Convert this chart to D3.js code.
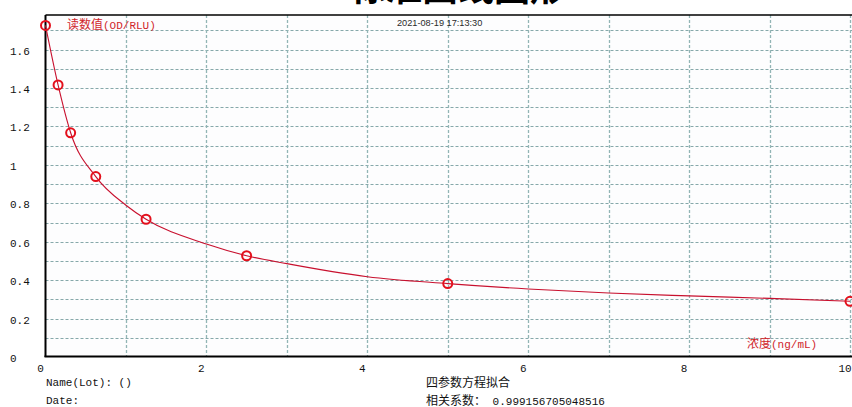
<!DOCTYPE html>
<html><head><meta charset="utf-8">
<script src="https://cdn.jsdelivr.net/npm/d3@7"></script>
<style>
html,body{margin:0;padding:0;background:#fff;overflow:hidden;}
svg{display:block;}
</style></head>
<body>
<svg id="chart" width="852" height="407"></svg>
<script>
// ---- data ----
const concentrations = [0, 0.15625, 0.3125, 0.625, 1.25, 2.5, 5, 10];
const readings = [1.726, 1.416, 1.167, 0.939, 0.717, 0.527, 0.382, 0.290];
// fitted four-parameter curve
const curveX = [0, 0.15625, 0.3125, 0.625, 1, 1.25, 2, 2.5, 3, 4, 5, 6, 7, 8, 9, 10];
const curveY = [1.726, 1.416, 1.167, 0.939, 0.79, 0.717, 0.588, 0.527, 0.486, 0.418, 0.382, 0.354, 0.333, 0.318, 0.305, 0.290];
const xTicks = [0, 2, 4, 6, 8, 10];
const xGrid = [1, 2, 3, 4, 5, 6, 7, 8, 9, 10];
const yTicks = [0, 0.2, 0.4, 0.6, 0.8, 1, 1.2, 1.4, 1.6];
const yGrid = [0.1, 0.2, 0.3, 0.4, 0.5, 0.6, 0.7, 0.8, 0.9, 1.0, 1.1, 1.2, 1.3, 1.4, 1.5, 1.6, 1.7];
const titleText = "标准曲线图形";
const timestamp = "2021-08-19 17:13:30";
const yAxisTitle = "读数值(OD/RLU)";
const xAxisTitle = "浓度(ng/mL)";
const infoLeft = ["Name(Lot): ()", "Date:"];
const infoRight = ["四参数方程拟合", "相关系数： 0.999156705048516"];

// ---- drawing ----
const svg = d3.select("#chart");
const L = 45.5, R = 850, T = 15, B = 357;
const x = d3.scaleLinear().domain([0, 10]).range([L, R]);
const y = d3.scaleLinear().domain([0, 1.78]).range([B, T]);

const mono = "'Liberation Mono','DejaVu Sans Mono',monospace";
const cjk = "'Noto Sans CJK SC','Noto Sans CJK JP',sans-serif";

function mixedText(sel, str, latinSize, cjkSize) {
  const runs = [];
  for (const ch of str) {
    const isC = /[\u3000-\u9fff\uff00-\uffef]/.test(ch);
    if (runs.length && runs[runs.length - 1].c === isC) runs[runs.length - 1].s += ch;
    else runs.push({c: isC, s: ch});
  }
  runs.forEach(r => {
    sel.append("tspan")
      .attr("font-family", r.c ? cjk : mono)
      .attr("font-size", r.c ? cjkSize : latinSize)
      .text(r.s);
  });
  return sel;
}

// title (cropped at the top edge, as in the reference)
svg.append("text").attr("x", 458).attr("y", 1).attr("text-anchor", "middle")
  .attr("font-family", cjk).attr("font-weight", "bold").attr("font-size", 36)
  .attr("fill", "#000").text(titleText);

// plot background
svg.append("rect").attr("x", L).attr("y", T).attr("width", 852 - L).attr("height", B - T).attr("fill", "#fdfdfe");

// grid
const g = svg.append("g");
g.selectAll("line.h").data(yGrid).join("line")
  .attr("x1", L).attr("x2", 852).attr("y1", d => Math.round(y(d)) + 0.5).attr("y2", d => Math.round(y(d)) + 0.5)
  .attr("stroke", "#86a8aa").attr("stroke-width", 1).attr("stroke-dasharray", "3,2");
g.selectAll("line.v").data(xGrid).join("line")
  .attr("y1", T).attr("y2", B).attr("x1", d => Math.round(x(d)) + 0.5).attr("x2", d => Math.round(x(d)) + 0.5)
  .attr("stroke", "#92b5b5").attr("stroke-width", 1.3).attr("stroke-dasharray", "3,2");

// timestamp
svg.append("text").attr("x", 397).attr("y", 25.5)
  .attr("font-family", "'Liberation Sans',Arial,sans-serif").attr("font-size", 9.2)
  .attr("fill", "#2a2a2a").text(timestamp);

// axes lines
svg.append("line").attr("x1", L).attr("x2", 852).attr("y1", T).attr("y2", T).attr("stroke", "#000").attr("stroke-width", 1.5);
svg.append("line").attr("x1", L).attr("x2", L).attr("y1", T).attr("y2", B).attr("stroke", "#000").attr("stroke-width", 2);
svg.append("line").attr("x1", L - 1).attr("x2", 852).attr("y1", B - 0.5).attr("y2", B - 0.5).attr("stroke", "#000").attr("stroke-width", 2);

// tick labels
svg.selectAll("text.yt").data(yTicks).join("text")
  .attr("x", 10).attr("y", d => y(d) + 5)
  .attr("font-family", mono).attr("font-size", 11).attr("fill", "#111")
  .text(d => d3.format("~g")(d));
svg.selectAll("text.xt").data(xTicks).join("text")
  .attr("x", d => x(d) - 5).attr("y", 372).attr("text-anchor", "middle")
  .attr("font-family", mono).attr("font-size", 11).attr("fill", "#111")
  .text(d => d);

// axis titles
mixedText(svg.append("text").attr("x", 67).attr("y", 29).attr("fill", "#d0252b"), yAxisTitle, 11, 12);
mixedText(svg.append("text").attr("x", 747).attr("y", 348).attr("fill", "#d0252b"), xAxisTitle, 11, 12);

// fitted curve
const line = d3.line().x((d, i) => x(curveX[i])).y(d => y(d)).curve(d3.curveMonotoneX);
svg.append("path").attr("d", line(curveY)).attr("fill", "none").attr("stroke", "#c8102e").attr("stroke-width", 1.1);

// points
svg.selectAll("circle.pt").data(readings).join("circle")
  .attr("cx", (d, i) => x(concentrations[i])).attr("cy", d => y(d)).attr("r", 4.5)
  .attr("fill", "none").attr("stroke", "#e3101c").attr("stroke-width", 2);

// info texts
infoLeft.forEach((s, i) => mixedText(svg.append("text").attr("x", 46).attr("y", 386 + i * 18).attr("fill", "#111"), s, 11, 12));
infoRight.forEach((s, i) => mixedText(svg.append("text").attr("x", 426).attr("y", 387 + i * 18).attr("fill", "#111"), s, 11, 12));
</script>
</body></html>
